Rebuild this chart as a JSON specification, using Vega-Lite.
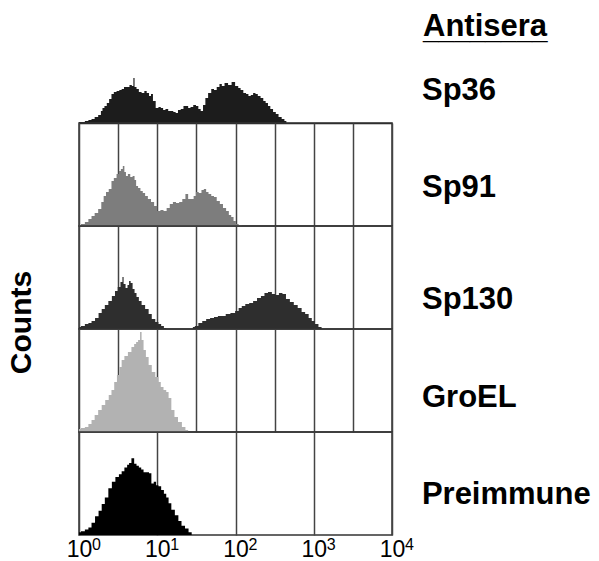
{
  "$schema": "https://vega.github.io/schema/vega-lite/v6.json",
  "background": "white",
  "padding": {"left": 5, "top": 11, "right": 0, "bottom": 0},
  "spacing": 0,
  "bounds": "flush",
  "title": {"text": "Antisera", "subtitle": "________", "anchor": "start", "frame": "group", "dx": 344, "fontSize": 31, "font": "Liberation Sans", "fontWeight": "bold", "color": "#000000", "offset": 0, "subtitleFont": "Liberation Sans", "subtitleFontSize": 28, "subtitleFontWeight": "bold", "subtitleColor": "#000000", "subtitlePadding": -26},
  "datasets": {
    "sp36": [
      {"d": 0.0, "c": 1}, {"d": 0.05, "c": 1}, {"d": 0.1, "c": 2}, {"d": 0.14, "c": 3}, {"d": 0.18, "c": 4}, {"d": 0.22, "c": 6}, {"d": 0.27, "c": 8}, {"d": 0.29, "c": 12}, {"d": 0.31, "c": 15}, {"d": 0.34, "c": 17}, {"d": 0.37, "c": 20}, {"d": 0.4, "c": 24}, {"d": 0.43, "c": 29}, {"d": 0.46, "c": 31}, {"d": 0.5, "c": 32}, {"d": 0.53, "c": 33}, {"d": 0.56, "c": 34}, {"d": 0.59, "c": 36}, {"d": 0.63, "c": 36}, {"d": 0.66, "c": 38}, {"d": 0.69, "c": 37}, {"d": 0.7, "c": 45}, {"d": 0.72, "c": 36}, {"d": 0.75, "c": 34}, {"d": 0.78, "c": 31}, {"d": 0.82, "c": 30}, {"d": 0.85, "c": 32}, {"d": 0.88, "c": 30}, {"d": 0.91, "c": 27}, {"d": 0.93, "c": 29}, {"d": 0.96, "c": 22}, {"d": 1.0, "c": 15}, {"d": 1.03, "c": 16}, {"d": 1.06, "c": 15}, {"d": 1.09, "c": 13}, {"d": 1.12, "c": 14}, {"d": 1.16, "c": 12}, {"d": 1.19, "c": 12}, {"d": 1.22, "c": 11}, {"d": 1.25, "c": 10}, {"d": 1.28, "c": 13}, {"d": 1.32, "c": 14}, {"d": 1.35, "c": 17}, {"d": 1.38, "c": 17}, {"d": 1.41, "c": 15}, {"d": 1.44, "c": 16}, {"d": 1.48, "c": 18}, {"d": 1.51, "c": 17}, {"d": 1.54, "c": 14}, {"d": 1.57, "c": 12}, {"d": 1.6, "c": 18}, {"d": 1.63, "c": 25}, {"d": 1.67, "c": 30}, {"d": 1.71, "c": 34}, {"d": 1.74, "c": 33}, {"d": 1.78, "c": 36}, {"d": 1.81, "c": 39}, {"d": 1.84, "c": 37}, {"d": 1.88, "c": 40}, {"d": 1.93, "c": 38}, {"d": 1.97, "c": 41}, {"d": 2.02, "c": 37}, {"d": 2.05, "c": 35}, {"d": 2.08, "c": 33}, {"d": 2.12, "c": 30}, {"d": 2.15, "c": 29}, {"d": 2.18, "c": 27}, {"d": 2.21, "c": 28}, {"d": 2.24, "c": 30}, {"d": 2.27, "c": 29}, {"d": 2.3, "c": 27}, {"d": 2.34, "c": 25}, {"d": 2.37, "c": 22}, {"d": 2.4, "c": 20}, {"d": 2.43, "c": 17}, {"d": 2.46, "c": 14}, {"d": 2.5, "c": 11}, {"d": 2.53, "c": 9}, {"d": 2.57, "c": 6}, {"d": 2.61, "c": 4}, {"d": 2.64, "c": 2}, {"d": 2.66, "c": 0}, {"d": 4.0, "c": 0}
    ],
    "sp91": [
      {"d": 0.0, "c": 1}, {"d": 0.05, "c": 2}, {"d": 0.1, "c": 4}, {"d": 0.14, "c": 7}, {"d": 0.18, "c": 10}, {"d": 0.22, "c": 13}, {"d": 0.27, "c": 17}, {"d": 0.3, "c": 24}, {"d": 0.33, "c": 30}, {"d": 0.36, "c": 34}, {"d": 0.4, "c": 37}, {"d": 0.43, "c": 45}, {"d": 0.46, "c": 48}, {"d": 0.5, "c": 52}, {"d": 0.52, "c": 55}, {"d": 0.55, "c": 57}, {"d": 0.57, "c": 60}, {"d": 0.59, "c": 54}, {"d": 0.61, "c": 50}, {"d": 0.64, "c": 52}, {"d": 0.67, "c": 49}, {"d": 0.7, "c": 50}, {"d": 0.72, "c": 46}, {"d": 0.74, "c": 40}, {"d": 0.77, "c": 38}, {"d": 0.8, "c": 35}, {"d": 0.83, "c": 33}, {"d": 0.86, "c": 30}, {"d": 0.9, "c": 27}, {"d": 0.94, "c": 24}, {"d": 0.98, "c": 20}, {"d": 1.02, "c": 15}, {"d": 1.06, "c": 16}, {"d": 1.1, "c": 15}, {"d": 1.14, "c": 18}, {"d": 1.18, "c": 22}, {"d": 1.22, "c": 24}, {"d": 1.26, "c": 23}, {"d": 1.3, "c": 24}, {"d": 1.34, "c": 27}, {"d": 1.38, "c": 32}, {"d": 1.41, "c": 27}, {"d": 1.45, "c": 27}, {"d": 1.48, "c": 30}, {"d": 1.51, "c": 34}, {"d": 1.55, "c": 33}, {"d": 1.58, "c": 36}, {"d": 1.61, "c": 37}, {"d": 1.64, "c": 34}, {"d": 1.67, "c": 32}, {"d": 1.71, "c": 30}, {"d": 1.74, "c": 29}, {"d": 1.78, "c": 25}, {"d": 1.82, "c": 22}, {"d": 1.86, "c": 18}, {"d": 1.9, "c": 15}, {"d": 1.93, "c": 11}, {"d": 1.96, "c": 9}, {"d": 1.99, "c": 5}, {"d": 2.02, "c": 2}, {"d": 2.06, "c": 1}, {"d": 2.1, "c": 0}, {"d": 4.0, "c": 0}
    ],
    "sp130": [
      {"d": 0.0, "c": 2}, {"d": 0.05, "c": 3}, {"d": 0.1, "c": 5}, {"d": 0.14, "c": 6}, {"d": 0.18, "c": 8}, {"d": 0.23, "c": 11}, {"d": 0.27, "c": 16}, {"d": 0.31, "c": 20}, {"d": 0.35, "c": 24}, {"d": 0.4, "c": 28}, {"d": 0.44, "c": 33}, {"d": 0.48, "c": 38}, {"d": 0.51, "c": 42}, {"d": 0.55, "c": 47}, {"d": 0.56, "c": 52}, {"d": 0.58, "c": 45}, {"d": 0.61, "c": 41}, {"d": 0.63, "c": 44}, {"d": 0.65, "c": 48}, {"d": 0.67, "c": 46}, {"d": 0.7, "c": 40}, {"d": 0.72, "c": 36}, {"d": 0.75, "c": 32}, {"d": 0.78, "c": 28}, {"d": 0.82, "c": 24}, {"d": 0.87, "c": 20}, {"d": 0.91, "c": 15}, {"d": 0.95, "c": 10}, {"d": 1.0, "c": 7}, {"d": 1.03, "c": 5}, {"d": 1.07, "c": 3}, {"d": 1.1, "c": 1}, {"d": 1.13, "c": 0}, {"d": 1.45, "c": 0}, {"d": 1.46, "c": 2}, {"d": 1.5, "c": 3}, {"d": 1.55, "c": 6}, {"d": 1.6, "c": 8}, {"d": 1.65, "c": 10}, {"d": 1.7, "c": 11}, {"d": 1.75, "c": 12}, {"d": 1.8, "c": 13}, {"d": 1.85, "c": 13}, {"d": 1.9, "c": 15}, {"d": 1.97, "c": 16}, {"d": 2.02, "c": 18}, {"d": 2.06, "c": 21}, {"d": 2.1, "c": 23}, {"d": 2.15, "c": 25}, {"d": 2.2, "c": 26}, {"d": 2.25, "c": 28}, {"d": 2.3, "c": 31}, {"d": 2.35, "c": 33}, {"d": 2.39, "c": 36}, {"d": 2.44, "c": 37}, {"d": 2.49, "c": 35}, {"d": 2.53, "c": 34}, {"d": 2.58, "c": 36}, {"d": 2.62, "c": 35}, {"d": 2.67, "c": 30}, {"d": 2.72, "c": 27}, {"d": 2.77, "c": 24}, {"d": 2.82, "c": 21}, {"d": 2.87, "c": 17}, {"d": 2.91, "c": 15}, {"d": 2.96, "c": 11}, {"d": 2.99, "c": 8}, {"d": 3.04, "c": 5}, {"d": 3.08, "c": 2}, {"d": 3.12, "c": 0}, {"d": 4.0, "c": 0}
    ],
    "groel": [
      {"d": 0.0, "c": 3}, {"d": 0.05, "c": 4}, {"d": 0.1, "c": 5}, {"d": 0.14, "c": 8}, {"d": 0.18, "c": 12}, {"d": 0.22, "c": 17}, {"d": 0.27, "c": 22}, {"d": 0.31, "c": 27}, {"d": 0.36, "c": 32}, {"d": 0.4, "c": 37}, {"d": 0.43, "c": 42}, {"d": 0.47, "c": 50}, {"d": 0.5, "c": 57}, {"d": 0.53, "c": 65}, {"d": 0.56, "c": 72}, {"d": 0.6, "c": 76}, {"d": 0.65, "c": 80}, {"d": 0.69, "c": 85}, {"d": 0.72, "c": 88}, {"d": 0.74, "c": 90}, {"d": 0.77, "c": 92}, {"d": 0.79, "c": 100}, {"d": 0.81, "c": 92}, {"d": 0.84, "c": 82}, {"d": 0.87, "c": 75}, {"d": 0.91, "c": 67}, {"d": 0.95, "c": 60}, {"d": 1.0, "c": 55}, {"d": 1.03, "c": 50}, {"d": 1.06, "c": 45}, {"d": 1.1, "c": 42}, {"d": 1.13, "c": 40}, {"d": 1.16, "c": 34}, {"d": 1.2, "c": 22}, {"d": 1.24, "c": 15}, {"d": 1.29, "c": 10}, {"d": 1.34, "c": 5}, {"d": 1.38, "c": 2}, {"d": 1.41, "c": 0}, {"d": 4.0, "c": 0}
    ],
    "pre": [
      {"d": 0.0, "c": 3}, {"d": 0.05, "c": 4}, {"d": 0.1, "c": 6}, {"d": 0.14, "c": 8}, {"d": 0.18, "c": 13}, {"d": 0.23, "c": 20}, {"d": 0.27, "c": 26}, {"d": 0.31, "c": 33}, {"d": 0.35, "c": 40}, {"d": 0.4, "c": 50}, {"d": 0.44, "c": 57}, {"d": 0.49, "c": 62}, {"d": 0.53, "c": 65}, {"d": 0.56, "c": 68}, {"d": 0.6, "c": 72}, {"d": 0.63, "c": 75}, {"d": 0.65, "c": 77}, {"d": 0.69, "c": 82}, {"d": 0.72, "c": 76}, {"d": 0.75, "c": 74}, {"d": 0.78, "c": 72}, {"d": 0.81, "c": 70}, {"d": 0.84, "c": 67}, {"d": 0.88, "c": 67}, {"d": 0.91, "c": 66}, {"d": 0.94, "c": 55}, {"d": 0.97, "c": 57}, {"d": 1.0, "c": 53}, {"d": 1.03, "c": 52}, {"d": 1.07, "c": 48}, {"d": 1.1, "c": 44}, {"d": 1.13, "c": 40}, {"d": 1.16, "c": 34}, {"d": 1.2, "c": 27}, {"d": 1.25, "c": 21}, {"d": 1.29, "c": 15}, {"d": 1.33, "c": 10}, {"d": 1.38, "c": 7}, {"d": 1.42, "c": 3}, {"d": 1.46, "c": 0}, {"d": 4.0, "c": 0}
    ],
    "exps": [
      {"e": 0, "s": "0"}, {"e": 1, "s": "1"}, {"e": 2, "s": "2"}, {"e": 3, "s": "3"}, {"e": 4, "s": "4"}
    ]
  },
  "vconcat": [
    {
      "width": 313, "height": 77,
      "data": {"name": "sp36"},
      "view": {"stroke": null},
      "title": {"text": "Sp36", "orient": "right", "angle": 0, "align": "right", "baseline": "middle", "anchor": "middle", "frame": "group", "offset": 30, "dy": 6},
      "mark": {"type": "area", "interpolate": "step", "color": "#1c1c1c"},
      "encoding": {
        "x": {"field": "d", "type": "quantitative", "scale": {"domain": [0, 4], "nice": false},
              "axis": {"values": [0, 0.5, 1, 1.5, 2, 2.5, 3, 3.5, 4], "labels": false, "ticks": false, "domain": true, "grid": false, "title": null}},
        "y": {"field": "c", "type": "quantitative", "scale": {"domain": [0, 77]}, "axis": null}
      }
    },
    {
      "width": 313, "height": 103,
      "data": {"name": "sp91"},
      "title": {"text": "Sp91", "orient": "right", "angle": 0, "align": "right", "baseline": "middle", "anchor": "middle", "frame": "group", "offset": 30, "dy": 13},
      "mark": {"type": "area", "interpolate": "step", "color": "#7d7d7d"},
      "encoding": {
        "x": {"field": "d", "type": "quantitative", "scale": {"domain": [0, 4], "nice": false},
              "axis": {"values": [0, 0.5, 1, 1.5, 2, 2.5, 3, 3.5, 4], "labels": false, "ticks": false, "domain": false, "grid": true, "title": null}},
        "y": {"field": "c", "type": "quantitative", "scale": {"domain": [0, 103]}, "axis": null}
      }
    },
    {
      "width": 313, "height": 103,
      "data": {"name": "sp130"},
      "title": {"text": "Sp130", "orient": "right", "angle": 0, "align": "right", "baseline": "middle", "anchor": "middle", "frame": "group", "offset": 30, "dy": 22},
      "mark": {"type": "area", "interpolate": "step", "color": "#2e2e2e"},
      "encoding": {
        "x": {"field": "d", "type": "quantitative", "scale": {"domain": [0, 4], "nice": false},
              "axis": {"values": [0, 0.5, 1, 1.5, 2, 2.5, 3, 3.5, 4], "labels": false, "ticks": false, "domain": false, "grid": true, "title": null}},
        "y": {"field": "c", "type": "quantitative", "scale": {"domain": [0, 103]},
              "axis": {"title": "Counts", "labels": false, "ticks": false, "domain": false, "grid": false, "titleY": 96, "titlePadding": 43, "titleFontSize": 30, "titleFontWeight": "bold", "titleColor": "#000000", "titleFont": "Liberation Sans"}}
      }
    },
    {
      "width": 313, "height": 103,
      "data": {"name": "groel"},
      "title": {"text": "GroEL", "orient": "right", "angle": 0, "align": "right", "baseline": "middle", "anchor": "middle", "frame": "group", "offset": 30, "dy": 17},
      "mark": {"type": "area", "interpolate": "step", "color": "#b2b2b2"},
      "encoding": {
        "x": {"field": "d", "type": "quantitative", "scale": {"domain": [0, 4], "nice": false},
              "axis": {"values": [0, 0.5, 1, 1.5, 2, 2.5, 3, 3.5, 4], "labels": false, "ticks": false, "domain": false, "grid": true, "title": null}},
        "y": {"field": "c", "type": "quantitative", "scale": {"domain": [0, 103]}, "axis": null}
      }
    },
    {
      "width": 313, "height": 103,
      "title": {"text": "Preimmune", "orient": "right", "angle": 0, "align": "right", "baseline": "middle", "anchor": "middle", "frame": "group", "offset": 8, "dy": 11},
      "layer": [
        {
          "data": {"name": "pre"},
          "mark": {"type": "area", "interpolate": "step", "color": "#000000"},
          "encoding": {
            "x": {"field": "d", "type": "quantitative", "scale": {"domain": [0, 4], "nice": false},
                  "axis": {"values": [0, 0.5, 1, 1.5, 2, 2.5, 3, 3.5, 4], "labels": true, "ticks": false, "domain": false, "grid": true, "title": null,
                           "labelExpr": "datum.value % 1 == 0 ? '10' : ''",
                           "labelFontSize": 23, "labelFont": "Liberation Sans", "labelColor": "#000000", "labelPadding": 3, "labelFlush": false, "labelOverlap": false}},
            "y": {"field": "c", "type": "quantitative", "scale": {"domain": [0, 103]}, "axis": null}
          }
        },
        {
          "data": {"name": "exps"},
          "mark": {"type": "text", "align": "left", "baseline": "top", "dx": 13, "dy": 2, "fontSize": 16, "font": "Liberation Sans", "color": "#000000"},
          "encoding": {
            "x": {"field": "e", "type": "quantitative"},
            "y": {"datum": 0, "type": "quantitative"},
            "text": {"field": "s"}
          }
        }
      ]
    }
  ],
  "config": {
    "view": {"stroke": "#333333", "strokeWidth": 1.5},
    "axis": {"gridColor": "#444444", "gridWidth": 1.5, "gridOpacity": 1, "domainColor": "#222222", "domainWidth": 1.5},
    "title": {"font": "Liberation Sans", "fontSize": 31, "fontWeight": "bold", "color": "#000000"}
  }
}
